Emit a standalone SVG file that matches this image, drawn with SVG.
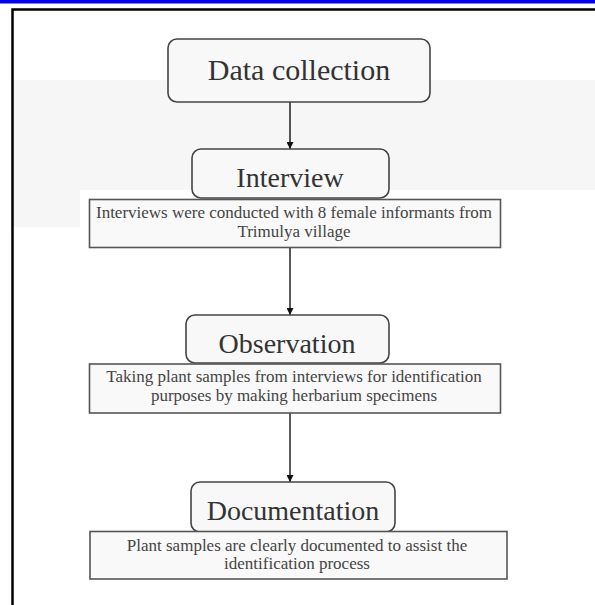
<svg xmlns="http://www.w3.org/2000/svg" width="595" height="605" viewBox="0 0 595 605">
<defs>
<style>
.title{font-family:"Liberation Serif","Times New Roman",serif;font-size:28px;fill:#333;text-anchor:middle}
.desc{font-family:"Liberation Serif","Times New Roman",serif;font-size:17px;fill:#444;text-anchor:middle}
.rbox{fill:#f8f8f8;stroke:#444;stroke-width:1.6}
.dbox{fill:#f9f9f9;stroke:#555;stroke-width:1.6}
.conn{stroke:#111;stroke-width:1.4;fill:none;marker-end:url(#ah)}
</style>
<marker id="ah" viewBox="0 0 10 10" refX="10" refY="5" markerWidth="7" markerHeight="7" markerUnits="userSpaceOnUse" orient="auto">
<path d="M0,0 L10,5 L0,10 z" fill="#111"/>
</marker>
</defs>
<rect x="0" y="0" width="595" height="605" fill="#fff"/>
<rect x="0" y="0" width="595" height="3" fill="#0000ff"/>
<rect x="0" y="3" width="595" height="1" fill="#8080ff"/>
<rect x="13" y="80" width="582" height="110" fill="#f6f6f6"/>
<rect x="13" y="190" width="67" height="37" fill="#f6f6f6"/>
<path d="M12.5,605 V9.5 H595" fill="none" stroke="#000" stroke-width="2.5"/>
<g id="connectors">
<line class="conn" x1="290" y1="102" x2="290" y2="149"/>
<line class="conn" x1="290" y1="248" x2="290" y2="315"/>
<line class="conn" x1="290" y1="413" x2="290" y2="482"/>
</g>
<g id="data-collection">
<rect class="rbox" x="168" y="39" width="262" height="63" rx="9"/>
<text class="title" x="299" y="80" style="font-size:30px">Data collection</text>
</g>
<g id="interview">
<rect class="rbox" x="192" y="149" width="197" height="49" rx="9"/>
<text class="title" x="290" y="187">Interview</text>
</g>
<g id="interview-desc">
<rect class="dbox" x="89.5" y="199.5" width="411" height="48"/>
<text class="desc" x="294" y="218">Interviews were conducted with 8 female informants from</text>
<text class="desc" x="294" y="237">Trimulya village</text>
</g>
<g id="observation">
<rect class="rbox" x="186" y="315" width="203" height="48" rx="9"/>
<text class="title" x="287" y="353">Observation</text>
</g>
<g id="observation-desc">
<rect class="dbox" x="89.5" y="364" width="411" height="49"/>
<text class="desc" x="294" y="382">Taking plant samples from interviews for identification</text>
<text class="desc" x="294" y="401">purposes by making herbarium specimens</text>
</g>
<g id="documentation">
<rect class="rbox" x="191" y="482" width="204" height="50" rx="9"/>
<text class="title" x="293" y="520">Documentation</text>
</g>
<g id="documentation-desc">
<rect class="dbox" x="90" y="531.5" width="417" height="47.5"/>
<text class="desc" x="297" y="551">Plant samples are clearly documented to assist the</text>
<text class="desc" x="297" y="569">identification process</text>
</g>
</svg>
